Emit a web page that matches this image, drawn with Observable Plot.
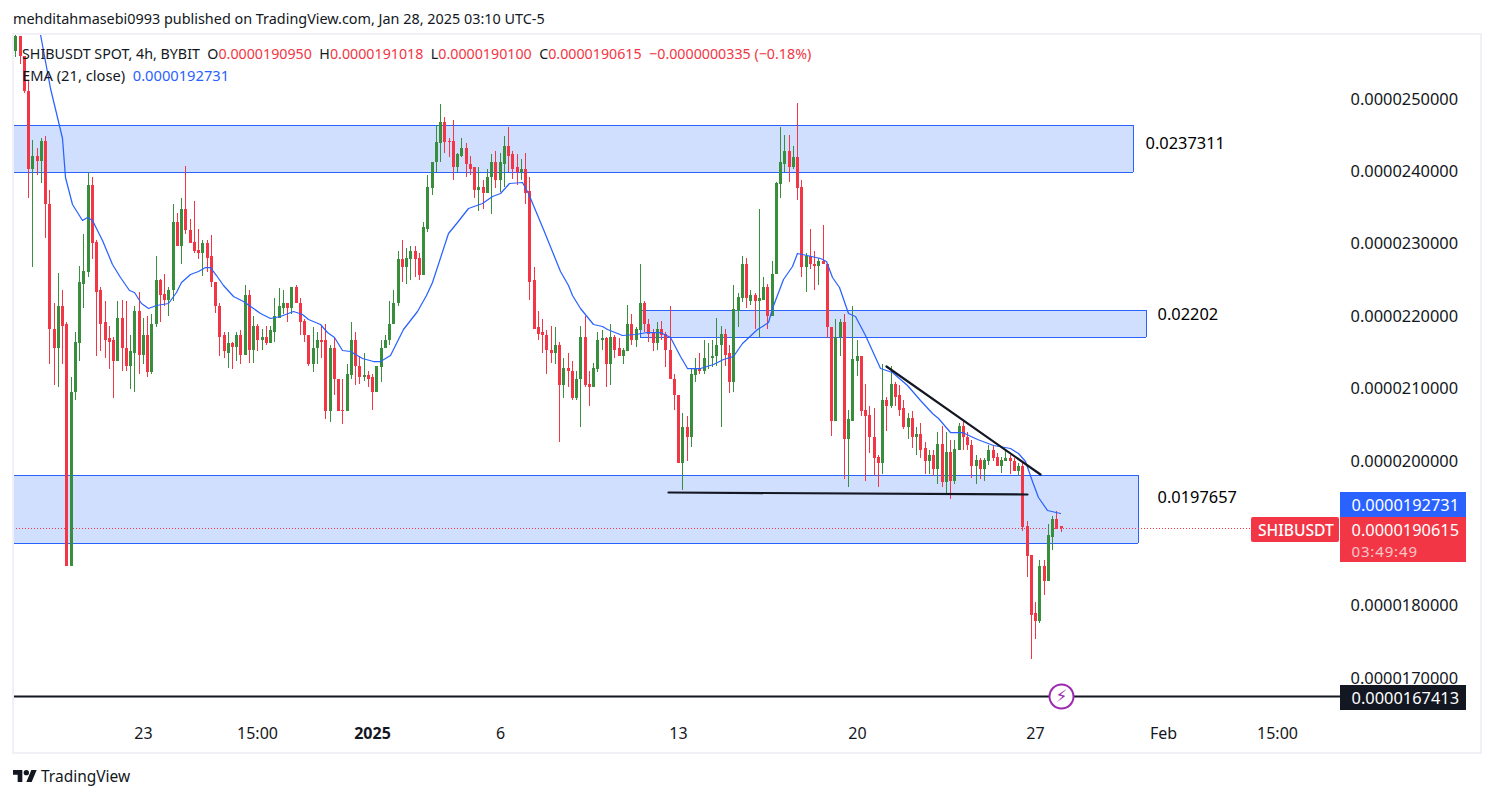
<!DOCTYPE html>
<html><head><meta charset="utf-8">
<script src="https://cdn.jsdelivr.net/npm/d3@7"></script>
<script src="https://cdn.jsdelivr.net/npm/@observablehq/plot@0.6"></script>
<style>
html,body{margin:0;padding:0;background:#fff;width:1494px;height:798px;overflow:hidden;font-family:"Noto Sans",sans-serif;color:#131722}
#title{position:absolute;left:13px;top:9px;font-size:14.4px;line-height:20px;white-space:pre}
#pane{position:absolute;left:12px;top:33px;width:1466px;height:717px;border:2px solid #f0f0f6;pointer-events:none;z-index:3}
#chart{position:absolute;left:0;top:33px}
.leg{position:absolute;left:22px;font-size:14.25px;line-height:20px;white-space:pre;z-index:2}
.r{color:#f23645}.b{color:#2962ff}
.box{position:absolute;left:1340px;width:126px;z-index:1}
.tag{position:absolute;left:1351.5px;color:#fff;font-size:16.4px;line-height:22px;white-space:pre;z-index:2}
#foot{position:absolute;left:13px;top:766px;display:flex;align-items:center;font-size:15.5px;line-height:20px}
#foot svg{margin-right:4px}
</style></head><body>
<div id="title">mehditahmasebi0993 published on TradingView.com, Jan 28, 2025 03:10 UTC-5</div>
<div id="chart"></div>
<div id="pane"></div>
<div class="leg" style="top:44px">SHIBUSDT SPOT, 4h, BYBIT  O<span class="r">0.0000190950</span>  H<span class="r">0.0000191018</span>  L<span class="r">0.0000190100</span>  C<span class="r">0.0000190615</span>  <span class="r">−0.0000000335 (−0.18%)</span></div>
<div class="leg" style="top:65px;font-size:14.7px">EMA (21, close)  <span class="b">0.0000192731</span></div>
<div class="box" style="top:492px;height:25px;background:#2962ff"></div>
<div class="tag" style="top:494px">0.0000192731</div>
<div class="box" style="top:517px;height:45px;background:#f23645"></div>
<div class="tag" style="top:519px">0.0000190615</div>
<div class="tag" style="top:540.5px;font-size:15px;line-height:20px;letter-spacing:.85px;opacity:.7">03:49:49</div>
<div class="box" style="left:1251px;width:88px;top:517px;height:25px;background:#f23645;border-radius:2px"></div>
<div class="tag" style="left:1258px;top:519px;font-size:15.6px;font-weight:500">SHIBUSDT</div>
<div class="box" style="top:685px;height:25px;background:#131722"></div>
<div class="tag" style="top:687px">0.0000167413</div>
<div id="foot"><svg width="24" height="14" viewBox="0 3 36 20"><path fill="#131722" d="M14 22H7V11H0V4h14v18zM28 22h-8l7.5-18h8L28 22z"/><circle fill="#131722" cx="20" cy="8" r="4"/></svg>TradingView</div>
<script>
// All prices in units of 1e-7 USDT; bars are 4h candles, bar 0 = 18 Dec 2024 00:00
const opens=[
256.6,258.7,255.9,251.1,240.3,242.1,241.4,244.2,235.5,218.2,
215.5,221.4,218.8,185.5,209.4,216.3,224.4,226.1,238,230.2,
223.5,219.1,216.9,216.6,213.8,219.7,215.6,213,214.9,220.7,
214.6,217.4,212.2,218.8,225,223,222.2,223.5,233,229.7,
234.8,231.9,230.2,229.1,228.6,230.1,228.2,224.7,221.4,217.3,
214.9,216.2,215.7,217.4,214.6,222.9,215.3,218.6,216.6,217,
216.3,217.8,219.7,221.1,221.7,221.1,224,221.8,219.3,217.4,
213.3,215.5,216.7,216.6,206.9,215.5,211.3,207,206.9,211.8,
216.6,213.1,211.6,211.8,211.5,209.5,212.9,215.5,216.6,218.8,
221.7,227.9,226.7,227.9,228.9,228,225.6,232,237.7,241.2,
243.9,246.7,244.2,244.2,240.5,242.1,243.1,241,240.5,237.3,
237.8,237,239.1,241.2,238.7,241,243.5,242.3,240.5,239.8,
240.2,237.2,224.9,218.4,217.7,217.4,215.3,214.8,216,210.5,
212.8,212.4,208.6,211.2,217,210.6,210.2,212.7,216.6,216.9,
213.3,217,215.5,214.5,215.1,218.8,216.6,218,221.8,218.9,
217.7,216.2,218.2,217.5,215.3,211.3,209.1,199.7,204.6,203.3,
211.8,212.8,212.3,214.1,214.1,214.4,215.9,217.5,214.8,210.8,
220.7,222.5,227.2,222.1,222.8,222,222.2,223.9,219.9,225.7,
238.2,241,242.8,240.5,241.9,237.8,226.7,228.3,227.2,226.9,
227.6,227.2,218.5,205.5,217,219.1,203,205.5,213.8,214.4,
207,206.3,203.3,200.5,199.7,208.3,207.5,210.6,209,207.2,
204.6,205.9,203.2,203.6,201.7,200,200.8,198.9,202.3,197.1,
201.2,197.2,201.5,204.8,203.3,202.2,199.3,200.1,198.9,200,
201.5,200.5,199.2,200,200.4,200,198.5,199.3,190.9,186.9,
178.9,177.9,185.4,183.4,189.5,191.9,190.95];
const closes=[
258.7,255.9,251,240.3,242.1,241.4,244.2,235.5,218.1,215.5,
221.4,218.6,185.4,209.5,216.4,224.6,226.2,238,230.1,223.3,
218.9,216.7,216.4,213.8,219.7,215.5,213,215.1,220.7,214.6,
217.4,212.2,218.9,225,222.9,222.2,223.6,233,229.7,234.8,
231.8,230.1,229,228.6,230.1,228,224.6,221.3,217.1,215.1,
216.2,215.7,217.4,214.6,222.9,215.3,218.6,216.6,217,216.3,
218,219.9,221.3,221.7,221.1,224,221.7,219.2,217.3,213.3,
215.6,216.7,216.4,206.9,215.5,211.2,206.9,206.9,211.9,216.6,
213,211.5,211.8,211.3,209.5,213,215.6,216.7,218.9,221.8,
227.9,226.7,228,228.9,227.9,225.6,232.2,237.8,241.3,244,
246.7,244,244,240.5,242.3,243.1,240.9,240.3,237.3,237.8,
237,239.2,241.2,238.7,241.2,243.5,242.1,240.3,239.8,240.2,
237,224.7,218.2,217.5,217.3,215.2,214.8,216,210.5,212.8,
212.3,208.6,211.3,217,210.5,210.2,212.8,216.7,216.9,213.3,
217,215.3,214.5,215.2,218.8,216.6,218.1,221.8,218.8,217.5,
216.2,218.2,217.4,215.2,211.2,209,199.7,204.6,203.3,211.9,
212.8,212.3,214.1,214.2,214.5,216,217.5,214.6,210.8,220.9,
222.6,227.2,222.5,222.8,222,222.4,223.9,219.9,225.8,238.4,
241.2,242.8,240.5,241.9,237.7,226.7,228.2,227.1,226.9,227.6,
227.1,218.4,205.5,217,219.1,203,205.7,214,214.4,206.9,
206.2,203.2,200.4,199.7,208.3,207.5,210.6,208.8,207,204.6,
205.9,203.2,203.6,201.5,200,200.8,198.9,202.3,197.1,201.2,
197.2,201.6,204.8,203.2,202.1,199.3,200.1,198.9,200.1,201.5,
200.4,199.2,200.1,200.4,199.9,198.5,199.3,190.8,186.8,178.6,
177.9,185.4,183.4,189.7,191.9,190.6,190.615];
const highs=[
259,258.7,255.9,252.5,244.3,243.2,244.6,244.8,237.4,221.7,
225.9,223.5,219.1,211.5,217.8,226.9,231.3,239.8,239.1,230.4,
224,222,218.6,217,222,222.2,222.1,217.4,221.3,223.3,
219.7,219.9,220.3,228.3,225.1,225.7,223.9,235.4,234.2,236.3,
240.7,233.4,235.9,232,230.5,230.5,231.1,224.7,221.8,217.8,
217.8,216.4,217.8,218,224.2,223.5,219.9,218.9,218.1,218.6,
218.6,222.4,223.8,223.6,221.8,224,224.3,222.4,219.6,217.4,
218.5,217.8,218.6,218.8,216,217,211.3,211.2,213.4,219.1,
217.8,214.5,214.8,212.3,211.9,213.1,216.6,217.3,222.1,223.6,
228.9,230.5,229.4,229.7,229.6,228.7,233,239.4,241.3,246.3,
249.2,247.5,244.5,247.1,242.5,244.6,243.9,242.1,240.6,240.5,
238.8,240.3,242.4,242.7,242.5,244.8,246.1,242.7,242.3,241.6,
242.5,239.2,226.8,220.6,219.6,218,218.6,218.4,216.4,214.2,
214.9,213.8,212.3,218.6,220,212.3,213.5,217.8,218,217,
218.9,217.3,216.9,215.5,221.5,220.3,218.5,227.2,222,219.5,
218.1,219.2,219.3,217.7,221.4,211.9,209.1,206.5,206.1,212.6,
214.2,214.8,216.7,216.3,216.6,219.7,218.6,218.1,216,224.2,
223.1,228.3,228,223.5,223.1,234.8,225.4,224.4,227.5,238.5,
246.1,245,244.9,243.5,249.4,238.8,228.7,232,228.9,228,
232.5,227.2,218.5,219.5,219.5,220.3,207,221.4,216.7,214.5,
210.6,207.5,207.3,200.8,213.4,208.8,213,210.9,210.4,208.3,
206.5,206.8,204.7,205.2,202.5,201.4,201.4,204,204.8,204,
202.8,202.8,205.2,205.5,203.9,202.8,200.8,200.4,200.3,202.1,
202.2,201.1,200.5,201.4,200.8,200.3,199.7,199.9,191.6,186.9,
180.4,186.3,186.2,191.3,192.3,193.1,191.018];
const lows=[
255.8,254.8,250.8,236.2,226.7,239.4,238.4,230.7,213.4,210.4,
210.2,213.3,185.4,185.4,208.3,213.8,221.1,225.4,227.9,214.4,
215.1,214.1,212.6,208.7,213.8,212.3,212.4,209.9,209.4,212,
213.4,211.6,211.9,218.4,219.2,221.4,220,222.1,229.6,227.1,
231.3,230,228.7,227.9,225.5,226.1,224,220.4,214.4,214.2,
212.8,212.7,213.8,213.3,214.6,213.5,213.5,215.1,215.2,216,
216.3,216.4,219.7,220.3,219.2,220.3,221.7,217.3,216.4,213,
212.2,213.3,214.2,205.7,205.3,209,206.8,205,206.9,211.2,
210.4,210.6,211,210.1,207,209.4,210.9,215.5,215.9,218.8,
221.3,224.6,224.4,225,225.4,224.9,225.6,231.6,236.7,239.8,
241.3,242.5,241.9,238.7,239.8,241.9,239.2,239.4,236.2,234.4,
234.7,237,234.1,237.6,237.1,237.8,239.8,238.9,238,238.8,
235.5,222.2,218.1,216.6,214.9,212,213.5,213.4,202.5,208.7,
210.2,208.3,208.4,204.7,210.1,207.6,210.2,212.2,215.2,210.2,
210.5,214.2,214.4,213.4,215.1,216,215.7,218,217.7,216.4,
215.1,215.3,216.6,212.9,211.2,207,199.7,195.9,199.9,201.9,
210.9,212,212,212.6,212.9,213,204.7,213,209.3,209.5,
218.5,221.9,221,221.5,218.2,216.9,222.2,218.2,219.9,225.7,
236.3,239.9,238.5,240.2,236,225.4,223.3,226.4,223.5,224.2,
227.1,216.9,203.4,205.4,214.4,197.5,196.4,205.5,211.7,206.1,
197.2,201.1,197.9,196.3,198.2,204.1,207.3,207.6,206.2,204.4,
203,201.8,200.8,200.4,198.1,198.1,197.9,196.7,196.4,195.3,
194.7,196.7,201.4,201.4,201.4,197.6,196.7,197.5,197.2,199.4,
200,199.2,198.3,199.9,198.1,198.5,197.9,190.2,183.9,172.6,
175.4,177.6,181.4,183.4,187.6,190.6,190.1];
const emaBars=[
5.8,8.1,9.8,11,11.7,13.3,15.6,16.8,18.1,20.4,
22.8,24.7,26.8,27.9,29.6,31.2,33.1,35.9,37.8,39,
41.1,43,44.6,45.8,47.2,48.8,51.2,53.5,56,57.6,
59.9,62.3,65.3,67.5,68.9,71.7,73.3,75,76.8,78.7,
81.5,84.1,85.8,88.2,91.2,94.5,96.6,98,101.8,103.9,
106.5,109.8,112.2,114,116.3,119.2,120.7,124.2,128.2,130.1,
131,132.9,135.9,138,139.2,142.7,145.8,148.6,151.7,154.1,
156.4,158.1,161.1,164.2,166.5,168.9,171,174.5,175.7,177.1,
178.2,180.6,182.7,183.9,189.4,190.8,192.2,193.8,195.9,197.6,
199.9,202.3,203.5,206.3,209.8,212.8,215.7,217.1,219.9,222.7,
226.3,230,234,235.9,237.6,239.2,240.6,242.7,245.9];
const emaValues=[
258.9,251.5,247.4,244.6,239.1,235.5,233.2,233.6,233.2,230.4,
227.2,225.3,223.6,223.3,221.7,221.1,221.5,221.8,223.3,224.6,
225.8,226.2,226.8,226.7,225.6,224.3,222.7,222,221.1,220.4,
219.7,220,220.6,220.3,219.5,218.9,217.7,217,215.2,215.1,
214.2,213.7,213.8,214.6,218.2,220.6,222.8,224.7,231.4,232.9,
234.9,235.6,236.6,237,238.4,238.5,237,232,226.2,224.2,
222.8,221.1,218.9,218.6,218.1,217.3,217.5,217.8,217.8,217,
214.5,212.8,212.8,213.4,214,214.5,216.2,218.1,218.6,219.1,
221,225.1,226.9,228.6,228,227.6,225.3,223.9,220.4,220,
217.3,214.3,212.8,212.2,210.4,208.3,206.5,205.9,204,204,
203,202.2,201.7,201,200,197.2,194.9,193.2,192.73];
const zoneStart=[-0.54,147,-0.54];
const zoneEnd=[263,266.2,264.2];
const zoneTop=[246.4,220.8,198];
const zoneBottom=[239.9,217,188.6];
const zoneNotes=["0.0237311","0.02202","0.0197657"];
const noteBars=[265.8,268.6,268.6];
const notePrices=[243.9,220.2,195];
const trendBarsA=[204.8,241.1], trendPricesA=[213.1,198.1];
const trendBarsB=[153.5,238], trendPricesB=[195.7,195.4];
const levelPrice=167.413, lastPrice=190.615;
const priceTicks=[170,180,200,210,220,230,240,250];
const tickBars=[30,57,114,156,198,240,270,297];
const tickNames=["23","15:00","6","13","20","27","Feb","15:00"];
const yearBar=[84], yearName="2025";

const up="#388e3c", down="#f23645", blue="#2962ff", ink="#131722", zoneFill="#d1dffe";
const font='"Noto Sans",sans-serif';
const bars=d3.range(opens.length);
const color=i=>closes[i]>=opens[i]?up:down;
const zones=d3.range(zoneStart.length);
const pts=(a,b)=>a.map((x,i)=>[x,b[i]]);
const endBar=311.76;

const plot=Plot.plot({
  width:1494,height:721,marginLeft:13,marginRight:154,marginTop:0,marginBottom:42,
  style:{background:"transparent",fontFamily:font,overflow:"visible"},
  x:{type:"linear",domain:[-0.54,endBar],round:true},
  y:{type:"linear",domain:[165.27,259.05],round:true},
  marks:[
    Plot.rect(zones,{x1:i=>zoneStart[i],x2:i=>zoneEnd[i],y1:i=>zoneBottom[i],y2:i=>zoneTop[i],fill:zoneFill}),
    Plot.ruleY(zones,{y:i=>zoneTop[i],x1:i=>zoneStart[i],x2:i=>zoneEnd[i],stroke:blue,strokeWidth:1}),
    Plot.ruleY(zones,{y:i=>zoneBottom[i],x1:i=>zoneStart[i],x2:i=>zoneEnd[i],stroke:blue,strokeWidth:1}),
    Plot.ruleX(zones,{x:i=>zoneEnd[i],y1:i=>zoneBottom[i],y2:i=>zoneTop[i],stroke:blue,strokeWidth:1}),
    Plot.ruleX([zoneStart[1]],{y1:zoneBottom[1],y2:zoneTop[1],stroke:blue,strokeWidth:1}),
    Plot.ruleY([lastPrice],{x1:-0.54,x2:292,stroke:down,strokeWidth:1,strokeDasharray:"1 2"}),
    Plot.ruleY([levelPrice],{stroke:ink,strokeWidth:2}),
    Plot.ruleX(bars,{x:i=>i,y1:i=>lows[i],y2:i=>highs[i],stroke:color,strokeWidth:1}),
    Plot.ruleX(bars,{x:i=>i,y1:i=>opens[i],y2:i=>closes[i],stroke:color,strokeWidth:3}),
    Plot.line(pts(emaBars,emaValues),{x:"0",y:"1",stroke:blue,strokeWidth:1.25,curve:"linear"}),
    Plot.line(pts(trendBarsA,trendPricesA),{x:"0",y:"1",stroke:ink,strokeWidth:2.2}),
    Plot.line(pts(trendBarsB,trendPricesB),{x:"0",y:"1",stroke:ink,strokeWidth:2.2}),
    Plot.text(zones,{x:i=>noteBars[i],y:i=>notePrices[i],text:i=>zoneNotes[i],textAnchor:"start",fill:"#000",fontSize:16.4}),
    Plot.dot([[246.2,levelPrice]],{x:"0",y:"1",r:12,fill:"#fff",stroke:"#9c27b0",strokeWidth:2}),
    Plot.text([[246.2,levelPrice]],{x:"0",y:"1",text:()=>"⚡",fill:"#9c27b0",fontSize:17,fontFamily:"DejaVu Sans"}),
    Plot.axisY({anchor:"right",ticks:priceTicks,tickSize:0,tickPadding:10,label:null,fontSize:16.4,fill:ink,
      tickFormat:v=>(v/1e7).toFixed(10)}),
    Plot.axisX({anchor:"bottom",ticks:tickBars,tickSize:0,tickPadding:15,label:null,fontSize:16,fill:ink,
      tickFormat:v=>tickNames[tickBars.indexOf(v)]}),
    Plot.axisX({anchor:"bottom",ticks:yearBar,tickSize:0,tickPadding:15,label:null,fontSize:16,fill:ink,fontWeight:"bold",
      tickFormat:()=>yearName})
  ]
});
document.getElementById("chart").appendChild(plot);
</script>
</body></html>
